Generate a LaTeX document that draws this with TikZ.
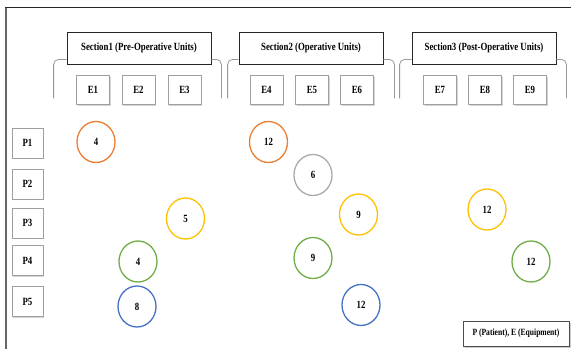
\documentclass[tikz,border=0pt]{standalone}
\usepackage{fontspec}
\setmainfont[FakeStretch=0.8]{Liberation Serif}
\usetikzlibrary{shapes.geometric,shadows}
\definecolor{corange}{RGB}{237,125,49}
\definecolor{cgray}{RGB}{170,170,170}
\definecolor{cyellow}{RGB}{255,192,0}
\definecolor{cgreen}{RGB}{112,173,71}
\definecolor{cblue}{RGB}{68,114,196}
\tikzset{
  lbl/.style={font=\bfseries\fontsize{11}{13}\selectfont, inner sep=0pt},
  secbox/.style={lbl, draw=black!85, line width=0.8pt, fill=white,
    minimum width=144pt, minimum height=32pt,
    drop shadow={shadow xshift=1pt, shadow yshift=-1pt, opacity=0.35}},
  cellbox/.style={lbl, draw=gray!75, line width=0.8pt, fill=white,
    minimum width=33pt, minimum height=29pt,
    drop shadow={shadow xshift=1pt, shadow yshift=-1pt, opacity=0.35}},
  pbox/.style={cellbox, minimum width=31pt, minimum height=30pt},
  legbox/.style={font=\bfseries\fontsize{9.5}{11}\selectfont, draw=black!70, line width=0.8pt, fill=white,
    minimum width=106pt, minimum height=25pt, inner sep=0pt,
    drop shadow={shadow xshift=1.5pt, shadow yshift=-1.5pt, opacity=0.4}},
  num/.style={lbl, ellipse, line width=1.3pt, fill=white,
    minimum width=38pt, minimum height=41pt},
  bracket/.style={draw=gray!80, line width=0.8pt, rounded corners=5pt},
}
\begin{document}
\begin{tikzpicture}[x=1pt,y=-1pt]
\useasboundingbox (0,0) rectangle (571,349);
% frame
\draw[black!60, line width=1.6pt] (6,349) -- (6,7);
\draw[black!85, line width=0.8pt] (5.2,7) -- (571,7);
% section boxes
\node[secbox] (s1) at (139,48) {Section1 (Pre-Operative Units)};
\node[secbox] (s2) at (311,48) {Section2 (Operative Units)};
\node[secbox] (s3) at (484,48) {Section3 (Post-Operative Units)};
% brackets
\draw[bracket] ([yshift=5pt]s1.south west) -- ++(-13,0) -- ++(0,39);
\draw[bracket] ([yshift=5pt]s1.south east) -- ++(10,0) -- ++(0,39);
\draw[bracket] ([yshift=5pt]s2.south west) -- ++(-11,0) -- ++(0,39);
\draw[bracket] ([yshift=5pt]s2.south east) -- ++(11,0) -- ++(0,39);
\draw[bracket] ([yshift=5pt]s3.south west) -- ++(-12,0) -- ++(0,39);
\draw[bracket] ([yshift=5pt]s3.south east) -- ++(10,0) -- ++(0,39);
% equipment
\node[cellbox] (e1) at (93,90) {E1};
\node[cellbox] (e2) at (138.5,90) {E2};
\node[cellbox] (e3) at (184.5,90) {E3};
\node[cellbox] (e4) at (266.5,90) {E4};
\node[cellbox] (e5) at (312,90) {E5};
\node[cellbox] (e6) at (357,90) {E6};
\node[cellbox] (e7) at (440,90) {E7};
\node[cellbox] (e8) at (485,90) {E8};
\node[cellbox] (e9) at (530,90) {E9};
% patients
\node[pbox] (p1) at (27.5,143) {P1};
\node[pbox] (p2) at (27.5,184) {P2};
\node[pbox] (p3) at (27.5,223) {P3};
\node[pbox] (p4) at (27.5,260.5) {P4};
\node[pbox] (p5) at (27.5,301.5) {P5};
% values
\node[num, draw=corange] (c1) at (96,142) {4};
\node[num, draw=corange] (c2) at (268.5,142) {12};
\node[num, draw=cgray] (c3) at (313,175) {6};
\node[num, draw=cyellow] (c4) at (185.5,218.5) {5};
\node[num, draw=cyellow] (c5) at (358.5,214.5) {9};
\node[num, draw=cyellow] (c6) at (487,209.5) {12};
\node[num, draw=cgreen] (c7) at (138,261.5) {4};
\node[num, draw=cgreen] (c8) at (313,258) {9};
\node[num, draw=cgreen] (c9) at (531,261.5) {12};
\node[num, draw=cblue] (c10) at (137,306.5) {8};
\node[num, draw=cblue] (c11) at (361,305) {12};
% legend
\node[legbox] (leg) at (516,333.5) {P (Patient), E (Equipment)};
\end{tikzpicture}
\end{document}
